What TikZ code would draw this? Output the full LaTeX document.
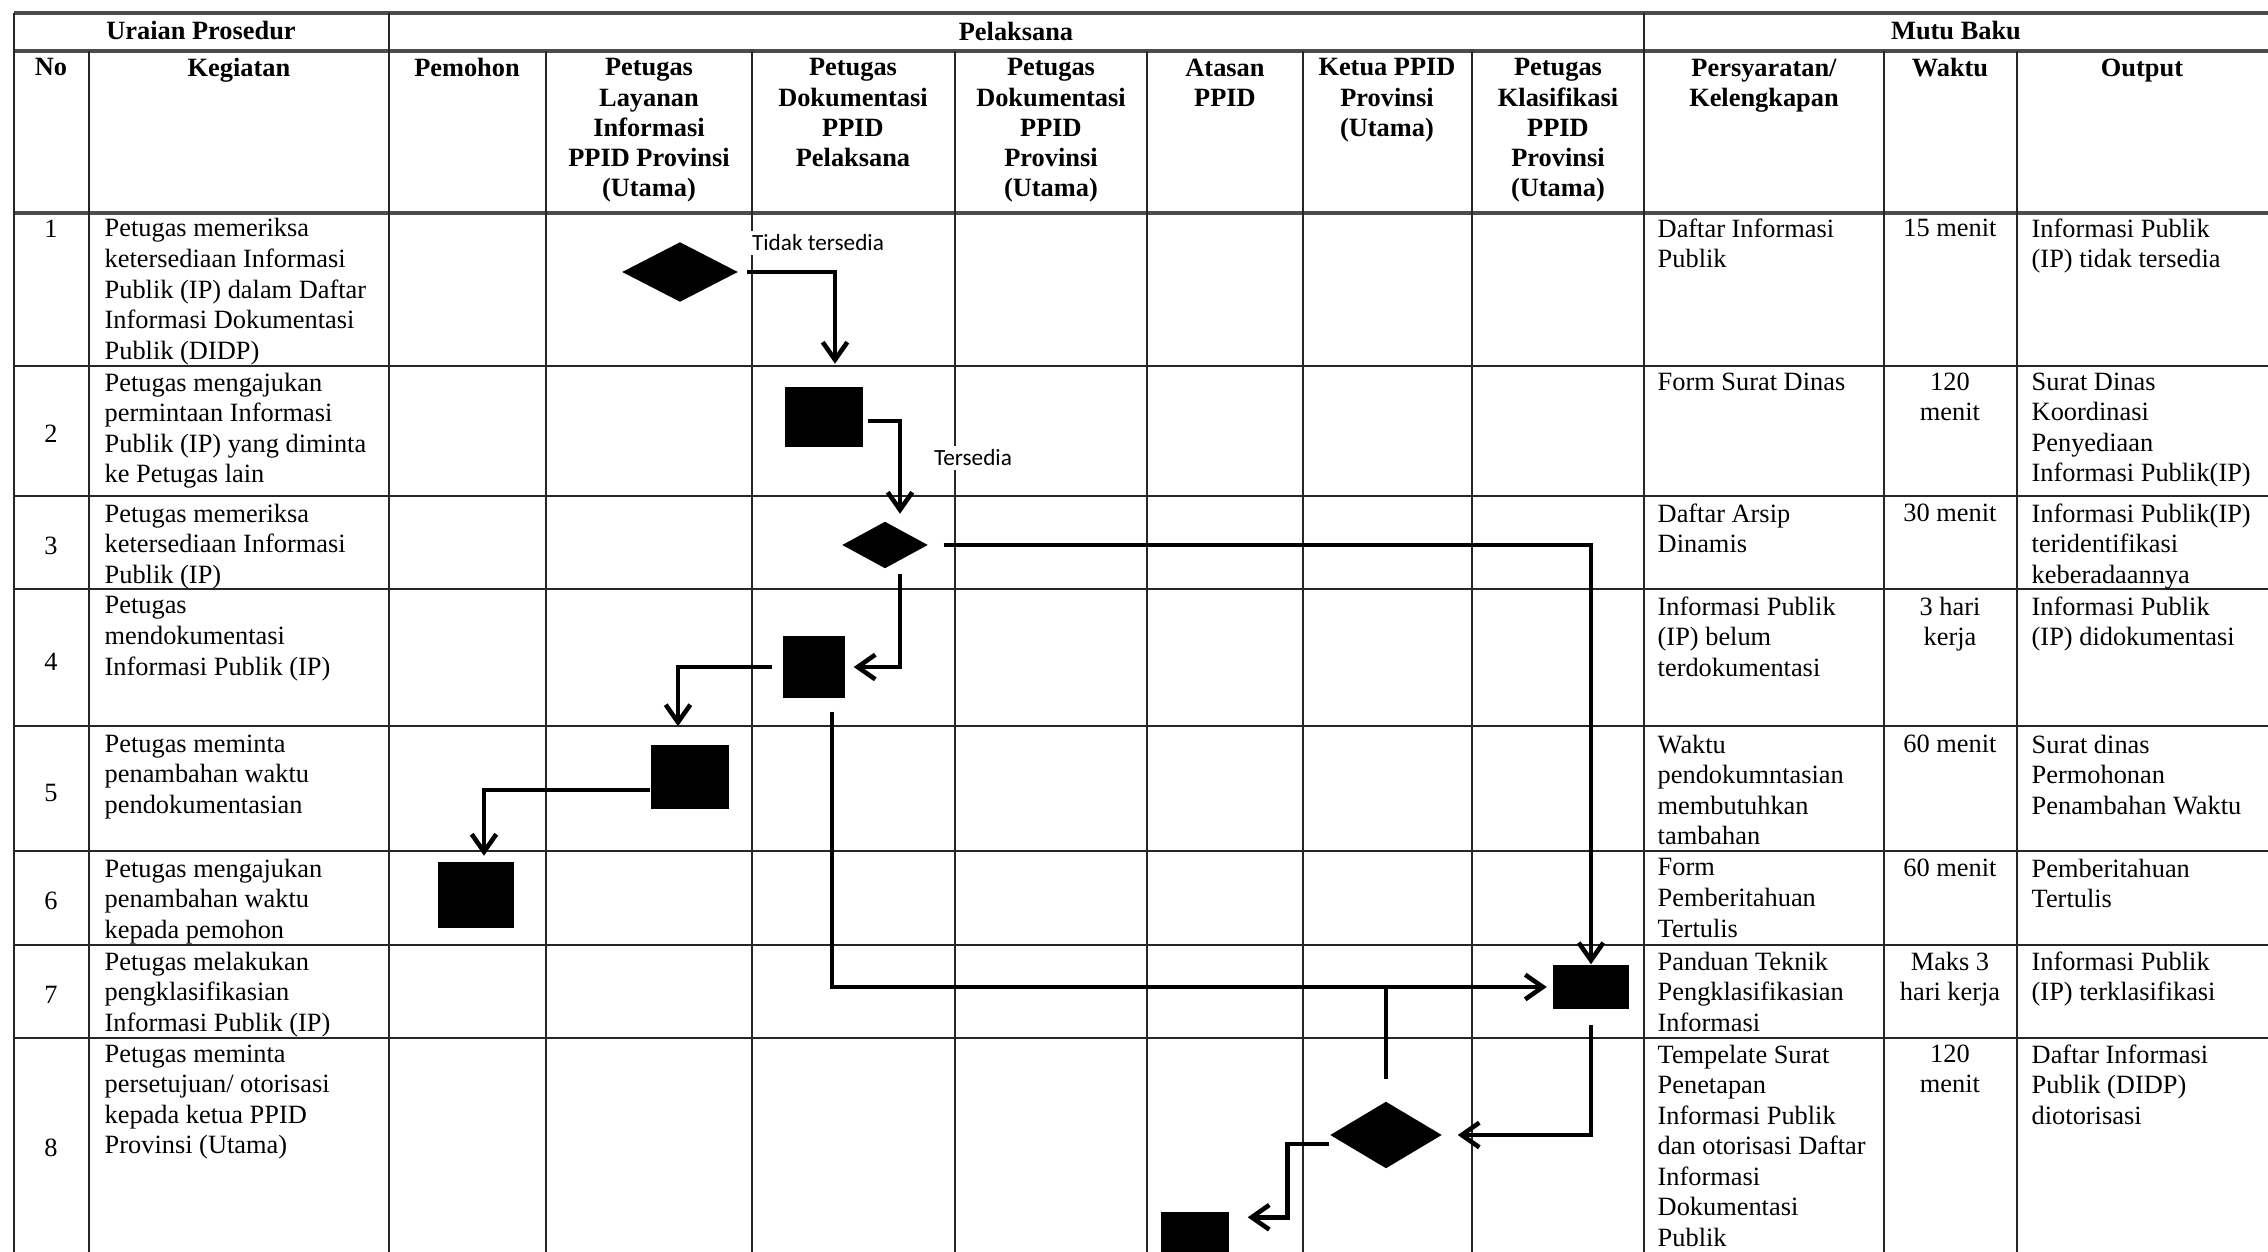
\documentclass[tikz,border=0pt]{standalone}
\usepackage{fontspec}
\setmainfont{Liberation Serif}
\newfontfamily\lblfont{Carlito}
\usetikzlibrary{shapes.geometric}
\usetikzlibrary{arrows.meta}

\begin{document}
\begin{tikzpicture}[x=0.01cm,y=-0.01cm]
		\tikzset{gridline/.style={line width=0.6pt,black!85},
			headline/.style={line width=0.9pt,black!70},
			hdr/.style={font=\fontsize{7.5}{8.6}\selectfont\bfseries,align=center,anchor=north,inner sep=0pt},
			txt/.style={font=\fontsize{7.5}{8.7}\selectfont,align=left,anchor=north west,inner sep=0pt},
			ctr/.style={font=\fontsize{7.5}{8.7}\selectfont,align=center,anchor=north,inner sep=0pt},
			num/.style={font=\fontsize{7.5}{8.7}\selectfont,inner sep=0pt},
			act/.style={fill=black,inner sep=0pt,preaction={draw=white,line width=6pt}},
			dec/.style={diamond,fill=black,inner sep=0pt,preaction={draw=white,line width=6pt,line join=round}},
			flow/.style={line width=1.3pt,-{Straight Barb[length=5pt,width=7pt]}},
			lbl/.style={font=\lblfont\fontsize{6.6}{7.6}\selectfont,fill=white,inner sep=1pt}}
		\useasboundingbox (0,0) rectangle (2268,1252);
		\draw[headline] (14,13) -- (2268,13);
		\draw[headline] (14,51) -- (2268,51);
		\draw[headline] (14,213) -- (2268,213);
		\foreach \y in {366,496,589,726,851,945,1038}
			\draw[gridline] (14,\y) -- (2268,\y);
		\foreach \x in {14,389,1644}
			\draw[gridline] (\x,13) -- (\x,1252);
		\foreach \x in {89,546,752,955,1147,1303,1472,1884,2017}
			\draw[gridline] (\x,51) -- (\x,1252);
		\node[hdr,anchor=center] (uraian) at (201,31) {Uraian Prosedur};
		\node[hdr,anchor=center] (pelaksana) at (1016,31) {Pelaksana};
		\node[hdr,anchor=center] (mutu) at (1956,31) {Mutu Baku};
		\node[hdr] (hno) at (51,58) {No};
		\node[hdr] (hkeg) at (239,58) {Kegiatan};
		\node[hdr] (hpem) at (467,58) {Pemohon};
		\node[hdr] (hlay) at (649,58) {Petugas\\Layanan\\Informasi\\PPID Provinsi\\(Utama)};
		\node[hdr] (hdokp) at (853,58) {Petugas\\Dokumentasi\\PPID\\Pelaksana};
		\node[hdr] (hdoku) at (1051,58) {Petugas\\Dokumentasi\\PPID\\Provinsi\\(Utama)};
		\node[hdr] (hatasan) at (1225,58) {Atasan\\PPID};
		\node[hdr] (hketua) at (1387,58) {Ketua PPID\\Provinsi\\(Utama)};
		\node[hdr] (hklas) at (1558,58) {Petugas\\Klasifikasi\\PPID\\Provinsi\\(Utama)};
		\node[hdr] (hsyarat) at (1764,58) {Persyaratan/\\Kelengkapan};
		\node[hdr] (hwaktu) at (1950,58) {Waktu};
		\node[hdr] (houtput) at (2142,58) {Output};
		\node[num] (no1) at (51,229) {1};
		\node[txt] (keg1) at (104,218) {Petugas memeriksa\\ketersediaan Informasi\\Publik (IP) dalam Daftar\\Informasi Dokumentasi\\Publik (DIDP)};
		\node[txt] (syr1) at (1657,218) {Daftar Informasi\\Publik};
		\node[ctr] (wkt1) at (1950,218) {15 menit};
		\node[txt] (out1) at (2031,218) {Informasi Publik\\(IP) tidak tersedia};
		\node[num] (no2) at (51,434) {2};
		\node[txt] (keg2) at (104,372) {Petugas mengajukan\\permintaan Informasi\\Publik (IP) yang diminta\\ke Petugas lain};
		\node[txt] (syr2) at (1657,372) {Form Surat Dinas};
		\node[ctr] (wkt2) at (1950,372) {120\\menit};
		\node[txt] (out2) at (2031,372) {Surat Dinas\\Koordinasi\\Penyediaan\\Informasi Publik(IP)};
		\node[num] (no3) at (51,546) {3};
		\node[txt] (keg3) at (104,503) {Petugas memeriksa\\ketersediaan Informasi\\Publik (IP)};
		\node[txt] (syr3) at (1657,503) {Daftar Arsip\\Dinamis};
		\node[ctr] (wkt3) at (1950,503) {30 menit};
		\node[txt] (out3) at (2031,503) {Informasi Publik(IP)\\teridentifikasi\\keberadaannya};
		\node[num] (no4) at (51,662) {4};
		\node[txt] (keg4) at (104,596) {Petugas\\mendokumentasi\\Informasi Publik (IP)};
		\node[txt] (syr4) at (1657,596) {Informasi Publik\\(IP) belum\\terdokumentasi};
		\node[ctr] (wkt4) at (1950,596) {3 hari\\kerja};
		\node[txt] (out4) at (2031,596) {Informasi Publik\\(IP) didokumentasi};
		\node[num] (no5) at (51,793) {5};
		\node[txt] (keg5) at (104,734) {Petugas meminta\\penambahan waktu\\pendokumentasian};
		\node[txt] (syr5) at (1657,734) {Waktu\\pendokumntasian\\membutuhkan\\tambahan};
		\node[ctr] (wkt5) at (1950,734) {60 menit};
		\node[txt] (out5) at (2031,734) {Surat dinas\\Permohonan\\Penambahan Waktu};
		\node[num] (no6) at (51,901) {6};
		\node[txt] (keg6) at (104,858) {Petugas mengajukan\\penambahan waktu\\kepada pemohon};
		\node[txt] (syr6) at (1657,858) {Form\\Pemberitahuan\\Tertulis};
		\node[ctr] (wkt6) at (1950,858) {60 menit};
		\node[txt] (out6) at (2031,858) {Pemberitahuan\\Tertulis};
		\node[num] (no7) at (51,995) {7};
		\node[txt] (keg7) at (104,951) {Petugas melakukan\\pengklasifikasian\\Informasi Publik (IP)};
		\node[txt] (syr7) at (1657,951) {Panduan Teknik\\Pengklasifikasian\\Informasi};
		\node[ctr] (wkt7) at (1950,951) {Maks 3\\hari kerja};
		\node[txt] (out7) at (2031,951) {Informasi Publik\\(IP) terklasifikasi};
		\node[num] (no8) at (51,1148) {8};
		\node[txt] (keg8) at (104,1044) {Petugas meminta\\persetujuan/ otorisasi\\kepada ketua PPID\\Provinsi (Utama)};
		\node[txt] (syr8) at (1657,1044) {Tempelate Surat\\Penetapan\\Informasi Publik\\dan otorisasi Daftar\\Informasi\\Dokumentasi\\Publik};
		\node[ctr] (wkt8) at (1950,1044) {120\\menit};
		\node[txt] (out8) at (2031,1044) {Daftar Informasi\\Publik (DIDP)\\diotorisasi};
		\node[dec,minimum width=1.16cm,minimum height=0.6cm] (d1) at (680,272) {};
		\node[act,minimum width=0.78cm,minimum height=0.59cm] (b2) at (824,417) {};
		\node[dec,minimum width=0.86cm,minimum height=0.47cm] (d3) at (885,545) {};
		\node[act,minimum width=0.62cm,minimum height=0.62cm] (b4) at (814,667) {};
		\node[act,minimum width=0.78cm,minimum height=0.64cm] (b5) at (690,777) {};
		\node[act,minimum width=0.75cm,minimum height=0.65cm] (b6) at (476,895) {};
		\node[act,minimum width=0.75cm,minimum height=0.44cm] (b7) at (1591,987) {};
		\node[dec,minimum width=1.12cm,minimum height=0.67cm] (d8) at (1386,1135) {};
		\node[act,minimum width=0.68cm,minimum height=0.64cm] (b8) at (1195,1244) {};
		\draw[flow,shorten <=0.08cm,shorten >=0.23cm] (d1.east) -| ([xshift=0.11cm]b2.north);
		\draw[flow,shorten <=0.04cm,shorten >=0.07cm] ([yshift=-0.04cm]b2.east) -| ([xshift=0.15cm]d3.north);
		\draw[flow,shorten <=0.15cm] (d3.east) -| (b7.north);
		\draw[flow,shorten <=0.05cm,shorten >=0.08cm] ([xshift=0.15cm]d3.south) |- (b4.east);
		\draw[flow,shorten <=0.1cm,shorten >=0.18cm] (b4.west) -| ([xshift=-0.12cm]b5.north);
		\draw[flow,shorten <=0.13cm,shorten >=0.06cm] ([xshift=0.18cm]b4.south) |- (b7.west);
		\draw[flow,shorten >=0.06cm] ([yshift=-0.13cm]b5.west) -| ([xshift=0.08cm]b6.north);
		\draw[flow,shorten <=0.15cm,shorten >=0.15cm] (b7.south) |- (d8.east);
		\draw[line width=1.3pt,shorten <=0.22cm] (d8.north) -- (d8.north |- b7.west);
		\draw[flow,shorten >=0.18cm] ([yshift=-0.09cm]d8.west) -- ++(-42,0) |- ([yshift=-0.06cm]b8.north east);
		\node[lbl] (tidak) at (818,243) {Tidak tersedia};
		\node[lbl] (ada) at (973,458) {Tersedia};
\end{tikzpicture}
\end{document}
